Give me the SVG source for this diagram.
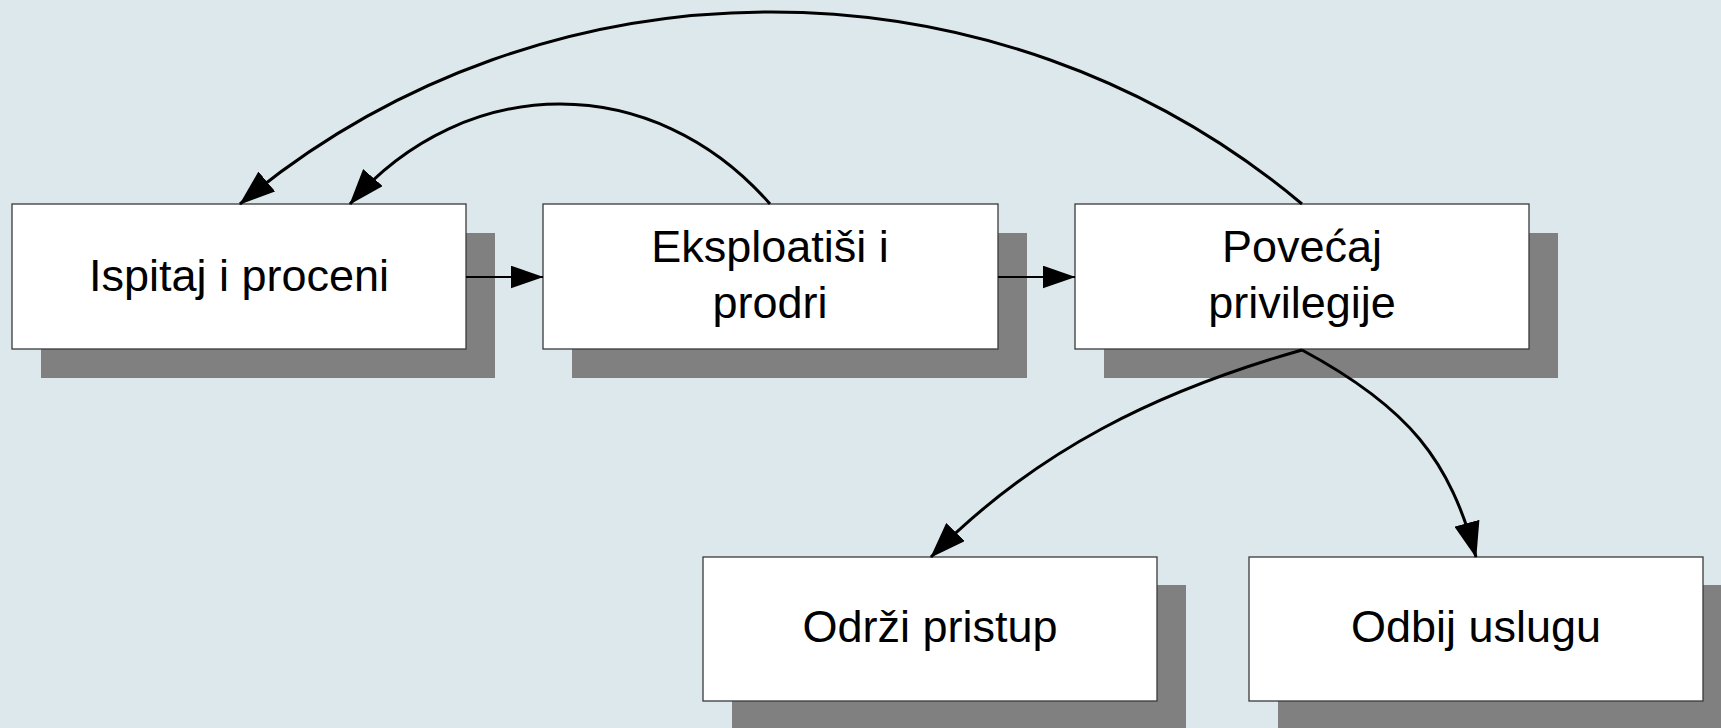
<svg xmlns="http://www.w3.org/2000/svg" width="1721" height="728" viewBox="0 0 1721 728">
<style>
.shadow{fill:#808080;}
.box{fill:#ffffff;stroke:#3a3a3a;stroke-width:1.3;}
.lbl{font-family:"Liberation Sans",Arial,sans-serif;font-size:45px;fill:#000;text-anchor:middle;}
.curve{fill:none;stroke:#000;stroke-width:3;}
.straight{fill:none;stroke:#000;stroke-width:2;}
</style>
<defs>
<marker id="arrL" viewBox="0 0 36 26" refX="35" refY="13" markerWidth="36" markerHeight="26" markerUnits="userSpaceOnUse" orient="auto">
<path d="M0,0 L36,13 L0,26 z" fill="#000"/>
</marker>
<marker id="arrS" viewBox="0 0 33 23" refX="32.5" refY="11.5" markerWidth="33" markerHeight="23" markerUnits="userSpaceOnUse" orient="auto">
<path d="M0,0 L33,11.5 L0,23 z" fill="#000"/>
</marker>
</defs>
<rect x="0" y="0" width="1721" height="728" fill="#dde8ed"/>
<g id="node-ispitaj">
<rect class="shadow" x="41" y="233" width="454" height="145"/>
<rect class="box" x="12" y="204" width="454" height="145"/>
<text class="lbl" x="239" y="291">Ispitaj i proceni</text>
</g>
<g id="node-eksploatisi">
<rect class="shadow" x="572" y="233" width="455" height="145"/>
<rect class="box" x="543" y="204" width="455" height="145"/>
<text class="lbl" x="770" y="262">Eksploatiši i</text>
<text class="lbl" x="770" y="318">prodri</text>
</g>
<g id="node-povecaj">
<rect class="shadow" x="1104" y="233" width="454" height="145"/>
<rect class="box" x="1075" y="204" width="454" height="145"/>
<text class="lbl" x="1302" y="262">Povećaj</text>
<text class="lbl" x="1302" y="318">privilegije</text>
</g>
<g id="node-odrzi">
<rect class="shadow" x="732" y="585" width="454" height="145"/>
<rect class="box" x="703" y="557" width="454" height="144"/>
<text class="lbl" x="930" y="642">Održi pristup</text>
</g>
<g id="node-odbij">
<rect class="shadow" x="1278" y="585" width="454" height="145"/>
<rect class="box" x="1249" y="557" width="454" height="144"/>
<text class="lbl" x="1476" y="642">Odbij uslugu</text>
</g>
<g id="connectors">
<path class="straight" d="M466,277 L543,277" marker-end="url(#arrS)"/>
<path class="straight" d="M998,277 L1075,277" marker-end="url(#arrS)"/>
<path class="curve" d="M1302,204 C997,-52 545,-52 240,204" marker-end="url(#arrL)"/>
<path class="curve" d="M770,204 C654,70.7 466,70.7 350,204" marker-end="url(#arrL)"/>
<path class="curve" d="M1302,350 C1158,391 1036,450 931,557" marker-end="url(#arrL)"/>
<path class="curve" d="M1302,350 C1410,408 1450,461 1476,557" marker-end="url(#arrL)"/>
</g>
</svg>
